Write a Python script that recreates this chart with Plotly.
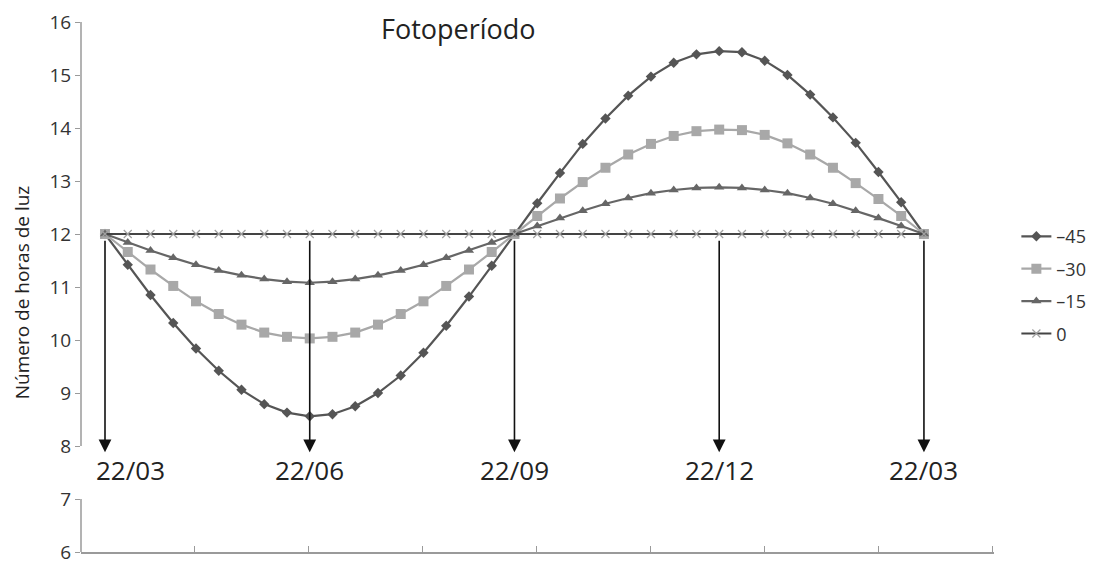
import plotly.graph_objects as go

# ---- data ----
idx = list(range(37))  # sampling points (every ~10 days from 22/03)
lat_m45 = [12.0, 11.42, 10.85, 10.32, 9.84, 9.42, 9.06, 8.79, 8.63, 8.56, 8.60, 8.75, 9.00, 9.33,
           9.76, 10.27, 10.82, 11.40, 12.0, 12.58, 13.15, 13.70, 14.18, 14.61, 14.97, 15.23, 15.39,
           15.45, 15.43, 15.27, 15.00, 14.63, 14.20, 13.72, 13.17, 12.60, 12.0]
lat_m30 = [12.0, 11.66, 11.33, 11.02, 10.73, 10.49, 10.29, 10.14, 10.06, 10.03, 10.06, 10.14, 10.29,
           10.49, 10.73, 11.02, 11.33, 11.66, 12.0, 12.34, 12.67, 12.98, 13.25, 13.50, 13.70, 13.85,
           13.94, 13.97, 13.96, 13.87, 13.71, 13.50, 13.25, 12.96, 12.66, 12.34, 12.0]
lat_m15 = [12.0, 11.84, 11.69, 11.55, 11.42, 11.31, 11.22, 11.15, 11.10, 11.08, 11.10, 11.15, 11.22,
           11.31, 11.42, 11.55, 11.69, 11.84, 12.0, 12.15, 12.30, 12.44, 12.57, 12.68, 12.77, 12.83,
           12.87, 12.88, 12.87, 12.83, 12.77, 12.68, 12.57, 12.44, 12.30, 12.15, 12.0]
lat_0 = [12.0] * 37
series_names = ["–45", "–30", "–15", "0"]

date_labels = ["22/03", "22/06", "22/09", "22/12", "22/03"]
date_idx = [0, 9, 18, 27, 36]

title_text = "Fotoperíodo"
ytitle = "Número de horas de luz"

# ---- figure ----
fig = go.Figure()
styles = [
    dict(line=dict(color="#555555", width=2.2), marker=dict(symbol="diamond", size=8, color="#555555")),
    dict(line=dict(color="#a8a8a8", width=2.2), marker=dict(symbol="square", size=10, color="#a8a8a8")),
    dict(line=dict(color="#666666", width=2.2), marker=dict(symbol="triangle-up", size=9, color="#666666")),
    dict(line=dict(color="#444444", width=2.2),
         marker=dict(symbol="x-thin-open", size=8, color="#a0a0a0", line=dict(width=1.2, color="#a0a0a0"))),
]
for name, vals, st in zip(series_names, [lat_m45, lat_m30, lat_m15, lat_0], styles):
    fig.add_trace(go.Scatter(x=idx, y=vals, mode="lines+markers", name=name,
                             legendgroup=name, line=st["line"], marker=st["marker"]))

# arrows and date labels
for k, (lab, xi) in enumerate(zip(date_labels, date_idx)):
    fig.add_annotation(x=xi, y=7.88, ax=xi, ay=11.9, xref="x", yref="y", axref="x", ayref="y",
                       text="", showarrow=True, arrowhead=2, arrowsize=1.6, arrowwidth=1.6,
                       arrowcolor="#111111")
    fig.add_annotation(x=xi, y=7.55, xref="x", yref="y", text=lab, showarrow=False,
                       xshift=25 if k == 0 else 0,
                       font=dict(family="Open Sans", size=26, color="#222222"))

# title and y-axis title
fig.add_annotation(x=0.413, y=0.987, xref="paper", yref="paper", xanchor="center", yanchor="middle",
                   text=title_text, showarrow=False,
                   font=dict(family="Open Sans", size=27, color="#222222", weight=500))
fig.add_annotation(x=-0.0646, y=0.49, xref="paper", yref="paper", xanchor="center", yanchor="middle",
                   text=ytitle, textangle=-90, showarrow=False,
                   font=dict(family="Open Sans", size=19, color="#222222", weight=500))

# y axis line with gap between 8 and 7
for y0, y1 in [(8, 16), (6, 7)]:
    fig.add_shape(type="line", xref="x domain", yref="y", x0=0, x1=0, y0=y0, y1=y1,
                  line=dict(color="#9a9a9a", width=1.5))

fig.update_layout(
    width=1098, height=554,
    margin=dict(l=73, r=112, t=14, b=10, autoexpand=False),
    paper_bgcolor="white", plot_bgcolor="white",
    showlegend=True,
    legend=dict(x=1.0245, y=0.63, xanchor="left", yanchor="top", traceorder="grouped",
                tracegroupgap=6, font=dict(family="Open Sans", size=18, color="#333333"),
                bgcolor="rgba(0,0,0,0)"),
    xaxis=dict(range=[-1.055, 39.08], showgrid=False, zeroline=False, showticklabels=False,
               showline=True, linecolor="#9a9a9a", linewidth=1.5, automargin=False,
               ticks="inside", ticklen=6, tickcolor="#9a9a9a", tick0=-1.055, dtick=5.011),
    yaxis=dict(range=[6, 16], dtick=1, showgrid=False, zeroline=False, showline=False,
               automargin=False,
               ticks="outside", ticklen=5, tickcolor="#9a9a9a", ticklabeloverflow="allow",
               tickfont=dict(family="Open Sans", size=19, color="#333333")),
)

fig.write_html("out.html")
